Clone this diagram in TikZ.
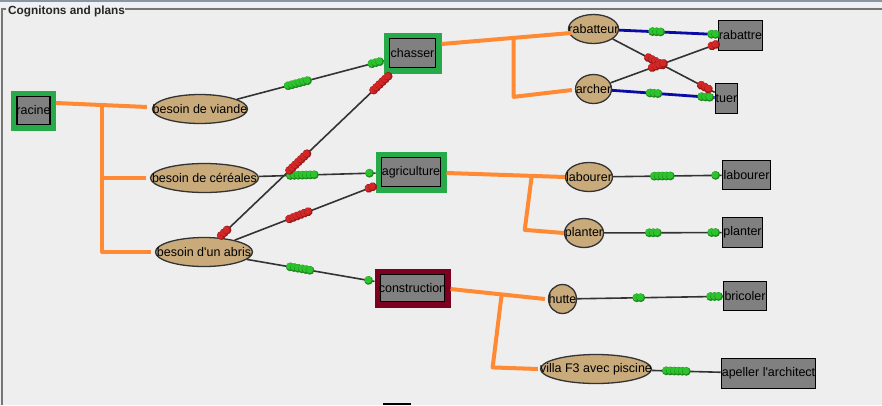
\documentclass[tikz,border=0pt]{standalone}
\usepackage{mathtools}
\usepackage{fontspec}
\setmainfont{Liberation Sans}
\usetikzlibrary{calc}
\usetikzlibrary{positioning}
\usetikzlibrary{shapes.geometric}
\usetikzlibrary{decorations.markings}
\definecolor{panelbg}{HTML}{EEEEEE}
\definecolor{topband}{HTML}{8A96A2}
\definecolor{topglow}{HTML}{EEF2F5}
\definecolor{framegray}{HTML}{767676}
\definecolor{treeorange}{HTML}{FF8A33}
\definecolor{framegreen}{HTML}{27AA4A}
\definecolor{framered}{HTML}{7E0020}
\definecolor{cogtan}{HTML}{C9AA7B}
\definecolor{plangray}{HTML}{808080}
\definecolor{linkblue}{HTML}{0A0AA5}
\definecolor{beadgreen}{HTML}{2CC42C}
\definecolor{beadred}{HTML}{D42626}
\tikzset{cogniton/.style={shape=ellipse, draw=black!80, line width=1.3pt, fill=cogtan, inner sep=0pt,
    minimum height=29pt, font=\fontsize{12.5}{14}\selectfont},
  plan/.style={shape=rectangle, draw=black, line width=1.8pt, fill=plangray, inner sep=0pt,
    minimum height=30pt, font=\fontsize{12.5}{14}\selectfont},
  goal/.style={plan, outer sep=6pt, preaction={draw=framegreen, line width=12pt}},
  failed/.style={plan, outer sep=6pt, preaction={draw=framered, line width=12pt}},
  tree/.style={draw=treeorange, line width=4pt, line join=round},
  link/.style={draw=black!80, line width=1.6pt},
  bond/.style={draw=linkblue, line width=2.8pt},
  gbeads/.style 2 args={postaction={decorate, decoration={markings,
    mark=between positions #1 and #2 step 4pt with {\fill[beadgreen!70!black] (0,0) circle (4.4pt);
      \fill[beadgreen] (-0.5pt,0.6pt) circle (3.5pt);}}}},
  rbeads/.style 2 args={postaction={decorate, decoration={markings,
    mark=between positions #1 and #2 step 4pt with {\fill[beadred!70!black] (0,0) circle (4.4pt);
      \fill[beadred] (-0.5pt,0.6pt) circle (3.5pt);}}}}}

\begin{document}
\begin{tikzpicture}[x=1pt, y=-1pt]
    \useasboundingbox (0,0) rectangle (882,405);
    \fill[panelbg] (0,0) rectangle (882,405);
    \fill[topband] (0,0) rectangle (882,1.7);
    \fill[topglow] (0,1.7) rectangle (882,7);
    \node[anchor=base west, inner sep=0pt, text=black!85, font=\bfseries\fontsize{11.8}{13}\selectfont]
      (title) at (8,14) {Cognitons and plans};
    \draw[framegray, line width=2.2pt] (2,405) -- (2,8.6) -- (6,8.6)
      (125,8.6) -- (882,8.6);
    \fill[black] (383,403) rectangle (411,405);

    \node[goal, minimum width=33pt, minimum height=28pt] (racine) at (33.5,110.5) {\clap{racine}};
    \node[cogniton, minimum width=95pt] (viande) at (200,109) {\clap{besoin de viande}};
    \node[cogniton, minimum width=108pt] (cereales) at (204.5,178) {\clap{besoin de céréales}};
    \node[cogniton, minimum width=97pt] (abris) at (204,252) {\clap{besoin d\textquotesingle un abris}};
    \node[goal, minimum width=46pt, minimum height=29pt] (chasser) at (412.5,53) {\clap{chasser}};
    \node[goal, minimum width=59pt, minimum height=29pt] (agriculture) at (411,172) {\clap{agriculture}};
    \node[failed, minimum width=64pt, minimum height=27pt] (construction) at (412.5,288) {\clap{construction}};
    \node[cogniton, minimum width=50pt] (rabatteur) at (593.5,29) {\clap{rabatteur}};
    \node[cogniton, minimum width=36pt] (archer) at (593.5,89) {\clap{archer}};
    \node[plan, minimum width=44pt] (rabattre) at (740.5,35.5) {\clap{rabattre}};
    \node[plan, minimum width=22pt] (tuer) at (726.5,98.5) {\clap{tuer}};
    \node[cogniton, minimum width=47pt] (labourerc) at (589,177) {\clap{labourer}};
    \node[cogniton, minimum width=39pt] (planterc) at (584,233) {\clap{planter}};
    \node[plan, minimum width=48pt, minimum height=29pt] (labourerp) at (746.5,175) {\clap{labourer}};
    \node[plan, minimum width=40pt] (planterp) at (742.5,232.5) {\clap{planter}};
    \node[cogniton, minimum width=28pt] (hutte) at (562.5,299) {\clap{hutte}};
    \node[cogniton, minimum width=111pt] (villa) at (596,369) {\clap{villa F3 avec piscine}};
    \node[plan, minimum width=43pt, minimum height=29pt] (bricoler) at (745,296) {\clap{bricoler}};
    \node[plan, minimum width=94pt] (architecte) at (768.5,373.5) {\clap{apeller l\textquotesingle architect}};

    \draw[tree] ([yshift=7.5pt]racine.east) -- coordinate[pos=0.51] (rt) ([shift={(-5pt,2pt)}]viande.west);
    \draw[tree] (rt) -- (rt |- abris.west) -- ([xshift=-4pt]abris.west);
    \draw[tree] (rt |- cereales.west) -- ([xshift=-4pt]cereales.west);
    \draw[tree] ([yshift=9pt]chasser.east) -- coordinate[pos=0.558] (ct) ([shift={(3pt,-4pt)}]rabatteur.west);
    \draw[tree] (ct) -- ++(0,59) -- ([shift={(-3pt,-1pt)}]archer.west);
    \draw[tree] ([yshift=-1pt]agriculture.east) -- coordinate[pos=0.72] (at) (labourerc.west);
    \draw[tree] (at) -- ++(-7,54) -- (planterc.west);
    \draw[tree] ([yshift=-1pt]construction.east) -- coordinate[pos=0.542] (bt) ([xshift=-3pt]hutte.west);
    \draw[tree] (bt) -- ++(-9,73) -- ([xshift=-2pt]villa.west);

    \draw[link, gbeads={0.35}{0.49}, gbeads={-12pt}{-4pt}] (viande) -- (chasser);
    \draw[link, gbeads={0.27}{0.48}, gbeads={-6pt}{-3pt}] (cereales) -- (agriculture);
    \draw[link, rbeads={3pt}{11pt}, rbeads={0.41}{0.52}, rbeads={-24pt}{-3pt}] (abris) -- (chasser);
    \draw[link, rbeads={0.39}{0.53}, rbeads={-7pt}{-3pt}] (abris) -- (agriculture);
    \draw[link, gbeads={0.34}{0.5}, gbeads={-6pt}{-3pt}] (abris) -- (construction);
    \draw[bond, gbeads={0.34}{0.45}, gbeads={-6pt}{-2pt}] (rabatteur) -- (rabattre);
    \draw[bond, gbeads={0.37}{0.45}, gbeads={-13pt}{-4pt}] (archer) -- (tuer);
    \draw[link, rbeads={0.35}{0.49}, rbeads={-15pt}{-4pt}] (rabatteur) -- (tuer);
    \draw[link, rbeads={0.39}{0.51}, rbeads={-6pt}{-2pt}] (archer) -- (rabattre);
    \draw[link, gbeads={0.38}{0.55}, gbeads={-6pt}{-3pt}] (labourerc) -- (labourerp);
    \draw[link, gbeads={0.385}{0.47}, gbeads={-10pt}{-4pt}] (planterc) -- (planterp);
    \draw[link, gbeads={0.41}{0.46}, gbeads={-12pt}{-4pt}] (hutte) -- (bricoler);
    \draw[link, gbeads={0.21}{0.53}] (villa) -- (architecte);
  \end{tikzpicture}
\end{document}
